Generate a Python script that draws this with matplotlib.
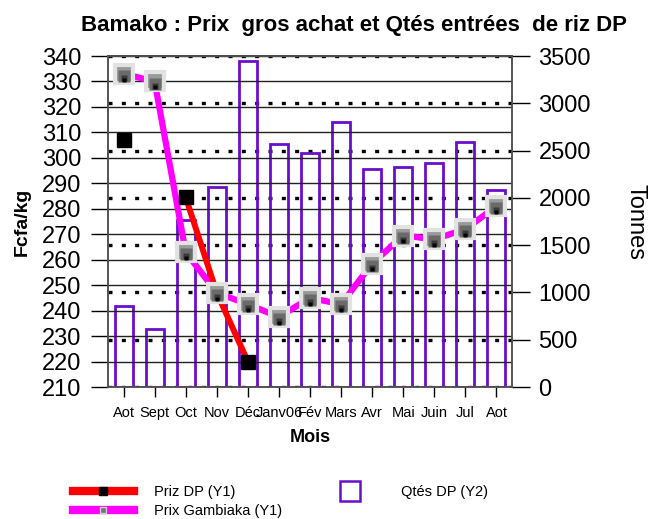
import numpy as np
import matplotlib
matplotlib.use("Agg")
import matplotlib.pyplot as plt
import matplotlib.transforms as mtransforms
from matplotlib.lines import Line2D
from matplotlib.ticker import FixedLocator

plt.rcParams['font.family'] = ['Liberation Sans', 'DejaVu Sans']

mois = ["Aot", "Sept", "Oct", "Nov", "Déc", "Janv06", "Fév", "Mars", "Avr",
        "Mai", "Juin", "Jul", "Aot"]
qtes_dp = [860, 610, 1770, 2120, 3450, 2570, 2470, 2800, 2310, 2330, 2370, 2590, 2080]
prix_gambiaka = [333, 330, 263, 247, 242.5, 237.5, 245, 242.5, 258.5, 269.5, 268, 272, 281]
priz_dp = [307, np.nan, 284.5, 247, 220, np.nan, np.nan, np.nan, np.nan,
           np.nan, np.nan, np.nan, np.nan]
left_ticks = list(range(210, 341, 10))
right_ticks = list(range(0, 3501, 500))

x = np.arange(len(mois))

fig = plt.figure(figsize=(6.55, 5.19), dpi=100)
ax = fig.add_axes([0.1649, 0.2543, 0.6168, 0.6378])
ax2 = ax.twinx()
ax.set_zorder(ax2.get_zorder() + 1)
ax.patch.set_visible(False)

# bars on right axis
ax2.bar(x, qtes_dp, width=0.58, facecolor='none', edgecolor='#6a0dcc',
        linewidth=2, zorder=3)
ax2.set_ylim(0, 3500)
ax2.set_yticks(right_ticks)
ax2.yaxis.grid(True, color='black', linestyle=(0, (1.2, 2.8)), linewidth=2.4)
ax2.set_axisbelow(False)

# lines on left axis
ax.plot(x, prix_gambiaka, color='#ff00ff', linewidth=4.5, zorder=3,
        solid_capstyle='butt')
ax.plot(x, priz_dp, color='#ff0000', linewidth=4.3, zorder=4,
        solid_capstyle='butt')
ax.plot(x, priz_dp, linestyle='none', marker='s', markersize=10,
        markerfacecolor='black', markeredgecolor='black', zorder=5)
# gradient-like square markers (light top, dark bottom)
ax.plot(x, prix_gambiaka, linestyle='none', marker='s', markersize=13,
        markerfacecolor='#9a9a9a', markeredgecolor='#e2e2e2',
        markeredgewidth=3, zorder=6)
for dy, ms, col in [(-1.5, 8, '#6a6a6a'), (-3.0, 5, '#3a3a3a'), (-4.2, 3, '#050505')]:
    ax.plot(x, prix_gambiaka, linestyle='none', marker='s', markersize=ms,
            markerfacecolor=col, markeredgecolor='none', zorder=7,
            transform=ax.transData + mtransforms.ScaledTranslation(0, dy / 72, fig.dpi_scale_trans))

ax.set_ylim(210, 340)
ax.set_yticks(left_ticks)
ax.set_xlim(-0.5, 12.5)
ax.set_xticks(x)
ax.set_xticklabels(mois, fontsize=10.5)
ax.xaxis.set_minor_locator(FixedLocator([1, 3, 5, 7, 9, 11]))
ax.grid(True, which='minor', axis='x', color='#444444', linewidth=1.2)
ax.yaxis.grid(True, color='#222222', linewidth=1)
ax.tick_params(axis='x', which='minor', length=0)
ax.tick_params(axis='x', which='major', length=7, width=1, pad=7, direction='out')
ax.tick_params(axis='y', length=12, width=1, pad=7, labelsize=17, direction='out')
ax2.tick_params(axis='y', length=13, width=1, pad=6, labelsize=17, direction='out')

for a in (ax, ax2):
    for s in a.spines.values():
        s.set_color('#555555')
        s.set_linewidth(1.2)
ax2.spines['top'].set_color('black')

ax.set_ylabel("Fcfa/kg", fontsize=14, fontweight='bold', labelpad=8)
ax2.set_ylabel("Tonnes", fontsize=17, rotation=-90, labelpad=40)
ax.set_xlabel("Mois", fontsize=13, fontweight='bold', labelpad=6)

fig.text(0.54, 0.950, "Bamako : Prix  gros achat et Qtés entrées  de riz DP",
         fontsize=16, fontweight='bold', ha='center', va='center')

handles = [
    Line2D([], [], color='#ff0000', linewidth=6, marker='s', markersize=6,
           markerfacecolor='black', markeredgecolor='black'),
    Line2D([], [], color='#ff00ff', linewidth=6, marker='s', markersize=5,
           markerfacecolor='#777777', markeredgecolor='#cccccc'),
    Line2D([], [], linestyle='none', marker='s', markersize=15,
           markerfacecolor='none', markeredgecolor='#6a0dcc', markeredgewidth=1.8),
]
labels = ["Priz DP (Y1)", "Prix Gambiaka (Y1)", "Qtés DP (Y2)"]
fig.legend(handles, labels, loc='upper left', bbox_to_anchor=(0.1, 1 - 478 / 519),
           ncol=2, frameon=False, fontsize=10.5, handlelength=4.2,
           handletextpad=1.4, columnspacing=2.5, labelspacing=0.35, borderpad=0)

fig.savefig("out.png", dpi=100)
